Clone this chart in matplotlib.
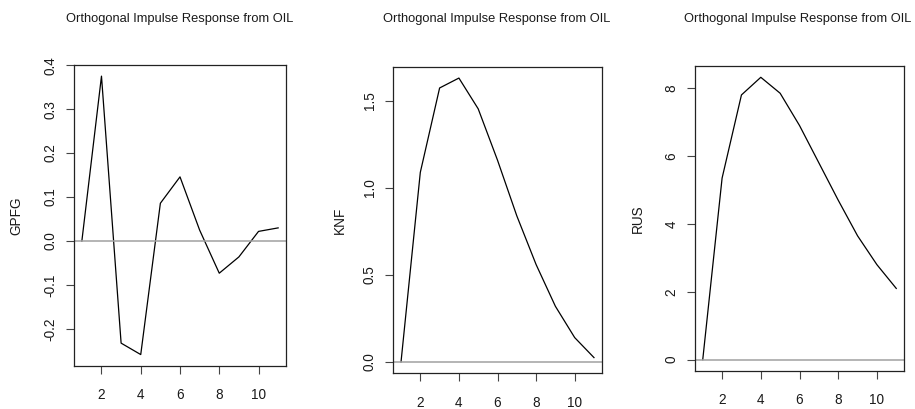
import matplotlib
matplotlib.use("Agg")
import matplotlib.pyplot as plt

plt.rcParams['font.family'] = ['Liberation Sans', 'DejaVu Sans']
plt.rcParams['axes.unicode_minus'] = False

# horizon steps and orthogonal impulse responses to an OIL shock
steps = [1, 2, 3, 4, 5, 6, 7, 8, 9, 10, 11]
gpfg = [0.0, 0.375, -0.232, -0.258, 0.086, 0.146, 0.025, -0.073, -0.036, 0.022, 0.030]
knf = [0.0, 1.09, 1.575, 1.632, 1.455, 1.16, 0.84, 0.56, 0.32, 0.14, 0.025]
rus = [0.0, 5.35, 7.8, 8.32, 7.85, 6.9, 5.8, 4.7, 3.65, 2.8, 2.1]

names = ['GPFG', 'KNF', 'RUS']
series = [gpfg, knf, rus]
yticks = [[-0.2, -0.1, 0.0, 0.1, 0.2, 0.3, 0.4],
          [0.0, 0.5, 1.0, 1.5],
          [0, 2, 4, 6, 8]]
ytick_fmt = ['%.1f', '%.1f', '%d']
title = 'Orthogonal Impulse Response from OIL'

W, H = 915, 409
# panel boxes in pixels: left, top, right, bottom
boxes = [(74, 65, 286, 365.7), (393.3, 66.7, 601.7, 373.3), (695, 66, 904, 371)]
ylab_x = [16, 340, 638]
title_x = [180, 496.5, 797.5]

fig = plt.figure(figsize=(W / 100, H / 100), dpi=100)
txt = '#1a1a1a'

for i in range(3):
    l, t, r, b = boxes[i]
    ax = fig.add_axes([l / W, 1 - b / H, (r - l) / W, (b - t) / H])
    y = series[i]
    ax.plot(steps, y, color='black', lw=0.9)
    ax.axhline(0, color='#a0a0a0', lw=1.1)
    lo, hi = min(y), max(y)
    pad = 0.04 * (hi - lo)
    ax.set_ylim(lo - pad, hi + pad)
    ax.set_xlim(0.6, 11.4)
    ax.set_xticks([2, 4, 6, 8, 10])
    ax.set_yticks(yticks[i])
    ax.set_yticklabels([ytick_fmt[i] % v for v in yticks[i]])
    ax.tick_params(direction='out', length=6, width=0.8, color='#444444',
                   labelsize=9.8, labelcolor=txt)
    ax.tick_params(axis='x', pad=10)
    ax.tick_params(axis='y', pad=6, labelrotation=90)
    for lab in ax.get_yticklabels():
        lab.set_va('center')
    for s in ax.spines.values():
        s.set_linewidth(0.9)
        s.set_color('#222222')
    ax.set_ylabel(names[i], fontsize=9.8, color=txt, va='center')
    ax.yaxis.set_label_coords((ylab_x[i] - l) / (r - l), 0.5)
    fig.text(title_x[i] / W, 1 - 22 / H, title, ha='center', va='baseline',
             fontsize=9.3, color=txt)

fig.savefig('out.png', dpi=100)
